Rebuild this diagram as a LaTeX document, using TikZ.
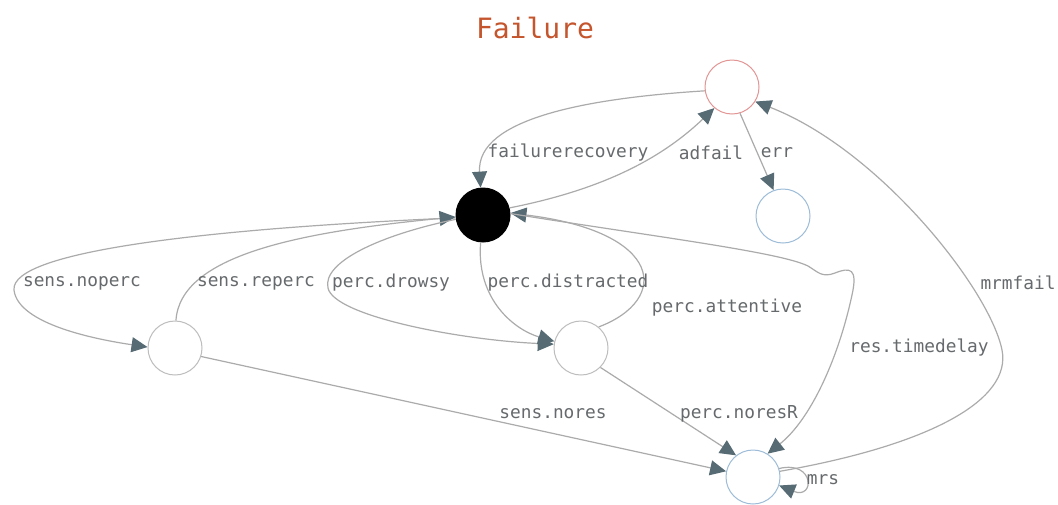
\documentclass[tikz,border=0pt]{standalone}
\usepackage{fontspec}
\setmonofont{DejaVu Sans Mono}
\usetikzlibrary{arrows.meta}
\definecolor{edgec}{HTML}{ABABAB}
\definecolor{tipc}{HTML}{566B74}
\definecolor{labc}{HTML}{666A6C}
\definecolor{titlec}{HTML}{C4552D}
\definecolor{nodec}{HTML}{BDBDBD}
\definecolor{redc}{HTML}{E39595}
\definecolor{bluec}{HTML}{9CBCD8}
\tikzset{
  state/.style={circle, draw=nodec, line width=1pt, fill=white, minimum size=54pt, inner sep=0pt},
  trans/.style={draw=edgec, line width=1.2pt, -{Triangle[length=16pt,width=15pt,color=tipc]}},
  lab/.style={font=\fontsize{17.8}{20}\selectfont\ttfamily, text=labc, inner sep=0pt},
}
\begin{document}
\begin{tikzpicture}[x=1pt,y=-1pt]
\useasboundingbox (0,0) rectangle (1058,504);
\fill[white] (0,0) rectangle (1058,504);

\node[font=\fontsize{28}{32}\selectfont\ttfamily, text=titlec] (title) at (535,28) {Failure};

% states
\node[state, draw=redc]  (fail) at (732,87) {};
\node[state, fill=black, draw=black] (init) at (483,215) {};
\node[state, draw=bluec] (err)  at (783,216) {};
\node[state] (sens) at (175,348) {};
\node[state] (perc) at (581,348) {};
\node[state, draw=bluec] (mrs)  at (753,477) {};

% transitions
\draw[trans] (fail.188) .. controls (590,98) and (476,118) .. (init.95);
\draw[trans] (init.15) .. controls (600,190) and (660,160) .. (fail.230);
\draw[trans] (fail.287) -- (err.110);
\draw[trans] (mrs.12) .. controls (930,445) and (1012,400) .. (1002,350)
  .. controls (990,290) and (880,150) .. (fail.328);
\draw[trans] (init.186) .. controls (220,228) and (10,250) .. (14,290)
  .. controls (18,325) and (100,340) .. (sens.178);
\draw[trans] (sens.88) .. controls (180,255) and (300,232) .. (init.184);
\draw[trans] (init.189) .. controls (380,235) and (322,262) .. (328,288)
  .. controls (334,316) and (460,340) .. (perc.172);
\draw[trans] (init.265) .. controls (476,300) and (515,330) .. (perc.166);
\draw[trans] (perc.50) .. controls (670,300) and (665,232) .. (init.4);
\draw[trans] (sens.-18) -- (mrs.168);
\draw[trans] (perc.-45) -- (mrs.128);
\draw[trans] (init.3) .. controls (650,236) and (780,252) .. (808,266)
  .. controls (818,272) and (822,278) .. (835,273)
  .. controls (850,267) and (858,268) .. (852,295)
  .. controls (838,360) and (810,420) .. (mrs.58);
\draw[trans] (mrs.18) .. controls (815,460) and (815,500) .. (mrs.-18);

% labels
\node[lab] (l1)  at (568,153) {failurerecovery};
\node[lab] (l2)  at (711,153) {adfail};
\node[lab] (l3)  at (777,153) {err};
\node[lab] (l4)  at (1018,283) {mrmfail};
\node[lab] (l5)  at (82,283) {sens.noperc};
\node[lab] (l6)  at (256,283) {sens.reperc};
\node[lab] (l7)  at (391,283) {perc.drowsy};
\node[lab] (l8)  at (568,283) {perc.distracted};
\node[lab] (l9)  at (727,308) {perc.attentive};
\node[lab] (l10) at (553,414) {sens.nores};
\node[lab] (l11) at (739,414) {perc.noresR};
\node[lab] (l12) at (919,348) {res.timedelay};
\node[lab] (l13) at (823,480) {mrs};
\end{tikzpicture}
\end{document}
